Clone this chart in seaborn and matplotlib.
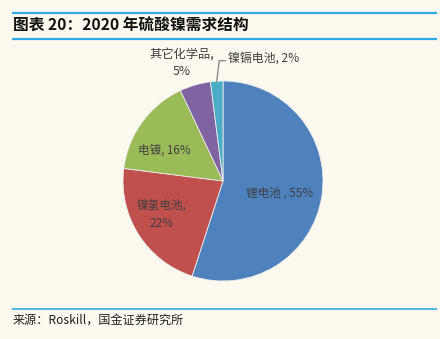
import numpy as np
import matplotlib
matplotlib.use("Agg")
import matplotlib.pyplot as plt
import seaborn as sns

# ---- data ----
categories = ["锂电池", "镍氢电池", "电镀", "其它化学品", "镍镉电池"]
shares = [55, 22, 16, 5, 2]
label_texts = ["锂电池 , 55%", "镍氢电池,\n22%", "电镀, 16%", "其它化学品,\n5%", "镍镉电池, 2%"]
title = "图表 20：2020 年硫酸镍需求结构"
source = "来源：Roskill，国金证券研究所"

sns.set_theme(style="white")
plt.rcParams["font.family"] = ["Noto Sans CJK SC", "DejaVu Sans"]

colors = sns.color_palette(["#4F81BD", "#C0504D", "#9BBB59", "#8064A2", "#4BACC6"])
bg = "#FDF9EF"
line_c = "#2EAAE4"
txt_c = "#404040"

W, H = 440, 339
fig = plt.figure(figsize=(W / 100, H / 100), dpi=100, facecolor=bg)
ax = fig.add_axes([0, 0, 1, 1])
ax.set_xlim(0, W)
ax.set_ylim(0, H)
ax.set_aspect("equal")
ax.axis("off")
ax.set_facecolor(bg)

cx, cy, R = 223, H - 181, 100
wedges, _ = ax.pie(shares, colors=colors, startangle=90, counterclock=False,
                   center=(cx, cy), radius=R,
                   wedgeprops=dict(edgecolor="#EDEDED", linewidth=0.6))
ax.set_xlim(0, W)
ax.set_ylim(0, H)

# label placement: (distance factor, angle offset in degrees)
place = [(0.58, -3), (0.70, -4), (0.66, 8)]
fs = 8.4
for w, t, (d, off) in zip(wedges[:3], label_texts[:3], place):
    ang = np.deg2rad((w.theta1 + w.theta2) / 2 + off)
    ax.text(cx + d * R * np.cos(ang), cy + d * R * np.sin(ang), t,
            ha="center", va="center", fontsize=fs, color=txt_c, linespacing=1.5)

# outside labels
w4 = wedges[3]
a4 = np.deg2rad((w4.theta1 + w4.theta2) / 2 + 3)
ax.text(cx + 1.25 * R * np.cos(a4), cy + 1.25 * R * np.sin(a4), label_texts[3],
        ha="center", va="center", fontsize=8.8, color=txt_c, linespacing=1.5)

w5 = wedges[4]
a5 = np.deg2rad((w5.theta1 + w5.theta2) / 2)
x0, y0 = cx + R * np.cos(a5), cy + R * np.sin(a5)
ax.plot([x0, x0 + 2.5, x0 + 9], [y0, y0 + 20.5, y0 + 20.5], color="#7F7F7F", lw=0.9)
ax.text(x0 + 11, y0 + 23, label_texts[4], ha="left", va="center",
        fontsize=8.6, color=txt_c)

# header / footer
ax.plot([12, 437], [H - 12.5, H - 12.5], color=line_c, lw=1.6, solid_capstyle="butt")
ax.plot([12, 437], [H - 38.5, H - 38.5], color=line_c, lw=1.6, solid_capstyle="butt")
ax.plot([12, 437], [H - 309, H - 309], color=line_c, lw=1.2, solid_capstyle="butt")
ax.text(13, H - 25.5, title, ha="left", va="center", fontsize=11.3,
        fontweight="bold", color="#111111")
ax.text(13, H - 320, source, ha="left", va="center", fontsize=8.7, color="#222222")

fig.savefig("out.png", dpi=100, facecolor=bg)
